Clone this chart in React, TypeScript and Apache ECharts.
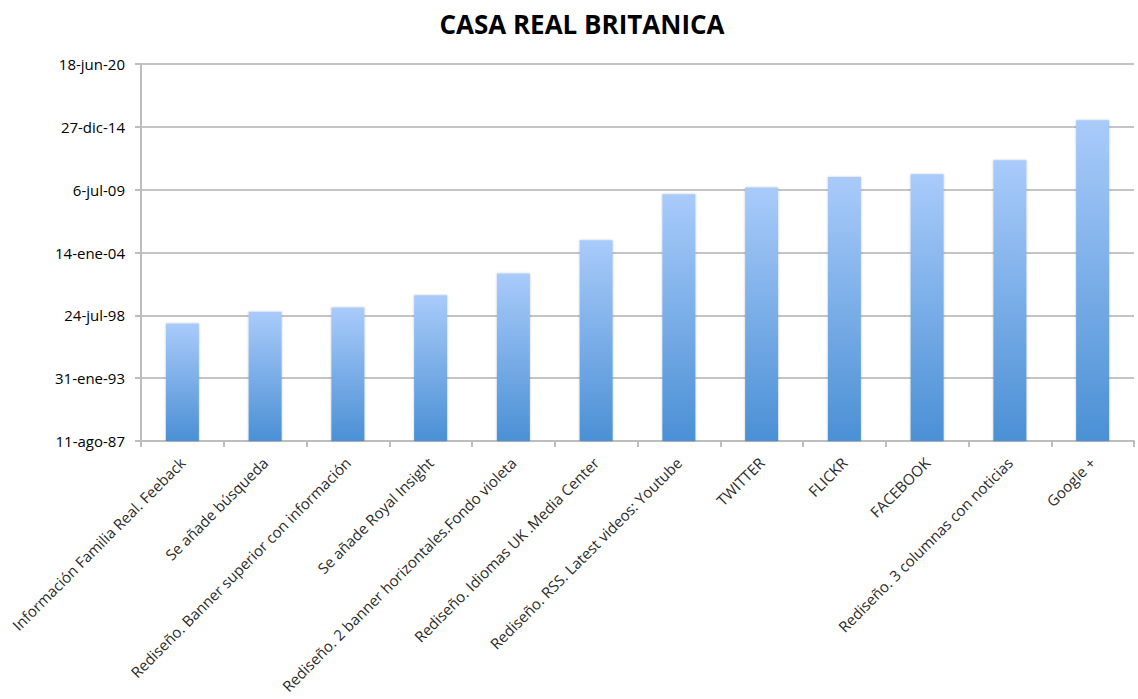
import React, { useEffect, useRef } from "react";
import * as echarts from "echarts";

const categorias: string[] = [
  "Información Familia Real. Feeback",
  "Se añade búsqueda",
  "Rediseño. Banner superior con información",
  "Se añade Royal Insight",
  "Rediseño. 2 banner horizontales.Fondo violeta",
  "Rediseño. Idiomas UK .Media Center",
  "Rediseño. RSS. Latest videos: Youtube",
  "TWITTER",
  "FLICKR",
  "FACEBOOK",
  "Rediseño. 3 columnas con noticias",
  "Google +",
];

// Fechas como número de serie de Excel (días desde 30-dic-1899)
const fechaSerial: number[] = [
  35742, 36111, 36251, 36642, 37332, 38391, 39854, 40067, 40404, 40490, 40935, 42207,
];

const ejeMin = 32000;
const ejeMax = 44000;
const ejeIntervalo = 2000;

const MESES = ["ene", "feb", "mar", "abr", "may", "jun", "jul", "ago", "sep", "oct", "nov", "dic"];

function serialAFecha(s: number): string {
  const d = new Date(Date.UTC(1899, 11, 30) + Math.round(s) * 86400000);
  const yy = String(d.getUTCFullYear() % 100).padStart(2, "0");
  return `${d.getUTCDate()}-${MESES[d.getUTCMonth()]}-${yy}`;
}

export default function App() {
  const ref = useRef<HTMLDivElement>(null);
  useEffect(() => {
    if (!ref.current) return;
    const chart = echarts.init(ref.current, null, { renderer: "svg" });
    chart.setOption({
      animation: false,
      backgroundColor: "#ffffff",
      title: {
        text: "CASA REAL BRITANICA",
        left: 577,
        top: 6,
        textAlign: "center",
        textStyle: {
          fontFamily: "Open Sans",
          fontWeight: "bold",
          fontSize: 26,
          color: "#000000",
        },
      },
      grid: { left: 141, right: 4, top: 64, bottom: 258, containLabel: false },
      xAxis: {
        type: "category",
        data: categorias,
        boundaryGap: true,
        axisLine: { show: true, lineStyle: { color: "#bdbdbd", width: 2 } },
        axisTick: { show: true, alignWithLabel: false, length: 6, lineStyle: { color: "#bdbdbd", width: 2 } },
        axisLabel: {
          interval: 0,
          rotate: 45,
          margin: 19,
          fontFamily: "Open Sans",
          fontSize: 15,
          color: "#2a2a2a",
        },
        splitLine: { show: false },
      },
      yAxis: {
        type: "value",
        min: ejeMin,
        max: ejeMax,
        interval: ejeIntervalo,
        axisLine: { show: true, lineStyle: { color: "#bdbdbd", width: 2 } },
        axisTick: { show: true, length: 6, lineStyle: { color: "#bdbdbd", width: 2 } },
        axisLabel: {
          margin: 16,
          fontFamily: "Open Sans",
          fontSize: 15,
          color: "#000000",
          formatter: (v: number) => serialAFecha(v),
        },
        splitLine: { show: true, lineStyle: { color: "#c4c4c4", width: 2 } },
      },
      series: [
        {
          type: "bar",
          data: fechaSerial,
          barWidth: 33,
          itemStyle: {
            color: new echarts.graphic.LinearGradient(0, 0, 0, 1, [
              { offset: 0, color: "#a9cbfa" },
              { offset: 1, color: "#4b90d5" },
            ]),
            shadowBlur: 2,
            shadowColor: "rgba(0,0,0,0.25)",
          },
        },
      ],
    });
    return () => chart.dispose();
  }, []);
  return (
    <div
      ref={ref}
      style={{ position: "fixed", left: 0, top: 0, width: 1138, height: 699 }}
    />
  );
}
